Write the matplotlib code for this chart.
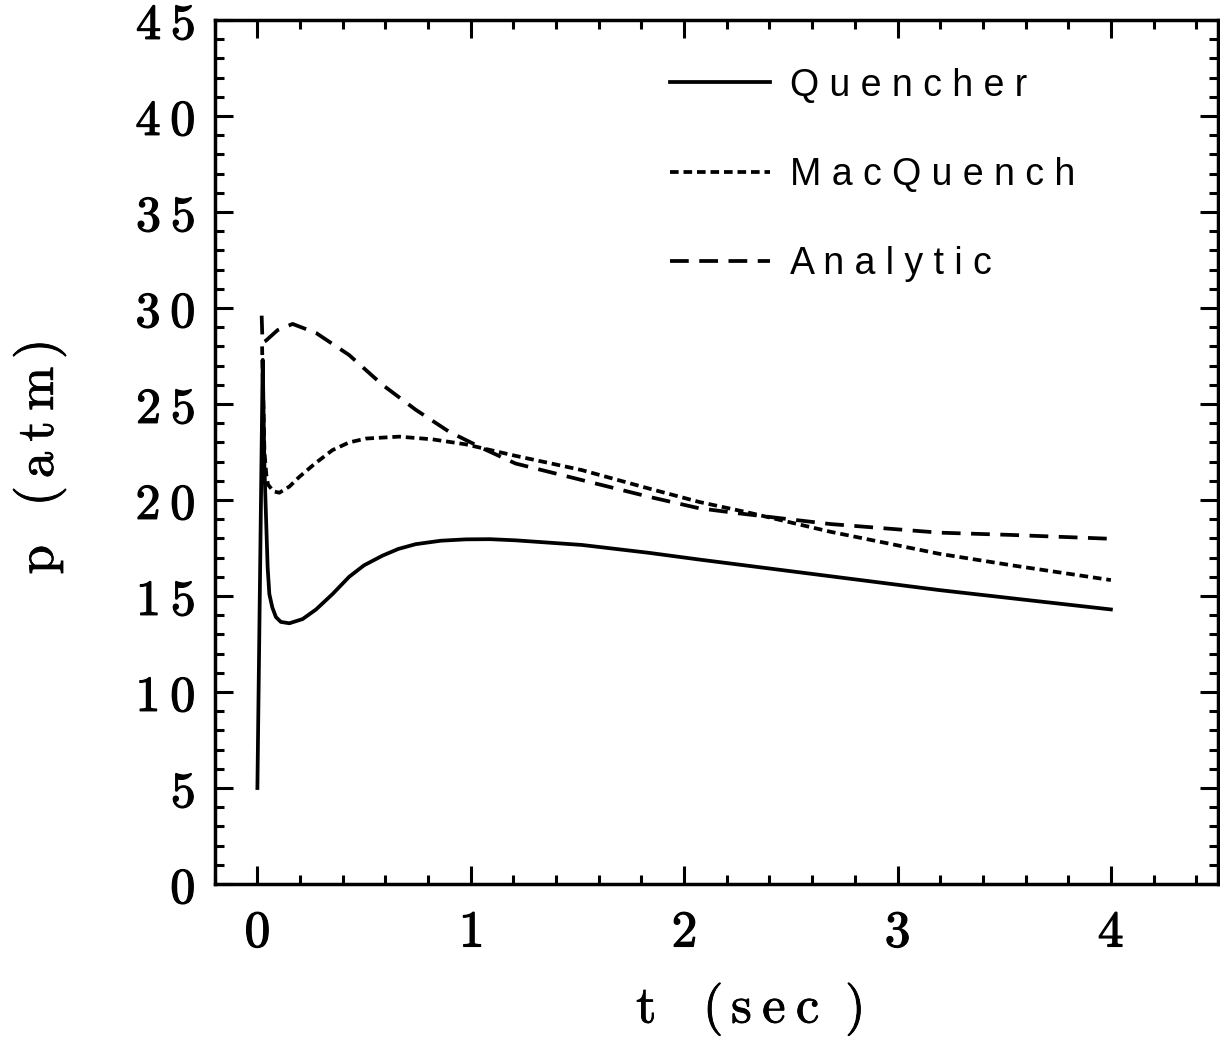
import matplotlib
matplotlib.use("Agg")
import matplotlib.pyplot as plt
from matplotlib.ticker import MultipleLocator
import matplotlib.patheffects as pe

# ---------------- data ----------------
t_quencher = [0.0, 0.025, 0.033, 0.048, 0.056, 0.070, 0.087, 0.11, 0.15, 0.212, 0.275,
              0.352, 0.43, 0.50, 0.586, 0.66, 0.742, 0.86, 0.976, 1.09, 1.21, 1.52,
              1.834, 2.07, 2.515, 3.195, 3.6, 4.0]
p_quencher = [5.0, 27.3, 21.7, 16.5, 15.1, 14.4, 13.9, 13.65, 13.58, 13.8, 14.3,
              15.1, 16.0, 16.6, 17.1, 17.45, 17.7, 17.88, 17.95, 17.96, 17.9, 17.66,
              17.25, 16.9, 16.27, 15.31, 14.8, 14.3]

t_macquench = [0.022, 0.028, 0.033, 0.042, 0.05, 0.075, 0.103, 0.15, 0.196, 0.27, 0.352,
               0.43, 0.509, 0.664, 0.82, 0.976, 1.21, 1.52, 1.834, 2.07, 2.30, 2.684,
               3.195, 3.535, 4.0]
p_macquench = [28.0, 25.0, 22.5, 21.3, 20.8, 20.45, 20.38, 20.7, 21.2, 21.9, 22.6,
               23.0, 23.2, 23.3, 23.16, 22.9, 22.3, 21.56, 20.6, 19.9, 19.35, 18.35,
               17.2, 16.6, 15.83]

t_analytic = [0.020, 0.024, 0.04, 0.095, 0.165, 0.275, 0.43, 0.586, 0.742, 0.898, 1.054,
              1.21, 1.52, 1.834, 2.07, 2.26, 2.684, 3.195, 3.535, 4.0]
p_analytic = [29.6, 28.2, 28.3, 28.85, 29.17, 28.7, 27.55, 26.0, 24.7, 23.56, 22.7,
              21.9, 21.04, 20.17, 19.57, 19.3, 18.75, 18.3, 18.18, 17.98]

series_labels = ["Q u e n c h e r", "M a c Q u e n c h", "A n a l y t i c"]

x_ticks = [0, 1, 2, 3, 4]
x_tick_labels = [r"$0$", r"$1$", r"$2$", r"$3$", r"$4$"]
y_ticks = [0, 5, 10, 15, 20, 25, 30, 35, 40, 45]
y_tick_labels = [r"$0$", r"$5$", r"$1\:0$", r"$1\:5$", r"$2\:0$", r"$2\:5$",
                 r"$3\:0$", r"$3\:5$", r"$4\:0$", r"$4\:5$"]
x_label = r"$\mathrm{t\quad(\,s\:e\:c\;\;)}$"
y_label = r"$\mathrm{p\;\;\;(\,a\:t\:m\,)}$"

# ---------------- figure ----------------
plt.rcParams["mathtext.fontset"] = "cm"
fig = plt.figure(figsize=(12.2, 10.41), dpi=100)
ax = fig.add_axes([0.176, 0.1508, 0.822, 0.830])

lw = 2.7
ax.plot(t_quencher, p_quencher, color="black", lw=lw, linestyle="-", label=series_labels[0])
ax.plot(t_macquench, p_macquench, color="black", lw=lw, linestyle=(0, (2.3, 1.3)),
        label=series_labels[1])
ax.plot(t_analytic, p_analytic, color="black", lw=lw, linestyle=(0, (5.0, 2.8)),
        label=series_labels[2])

ax.set_xlim(-0.2, 4.5)
ax.set_ylim(0, 45)

ax.set_xticks(x_ticks)
ax.set_xticklabels(x_tick_labels)
ax.set_yticks(y_ticks)
ax.set_yticklabels(y_tick_labels)
ax.xaxis.set_minor_locator(MultipleLocator(0.2))
ax.yaxis.set_minor_locator(MultipleLocator(1))

ax.tick_params(which="both", direction="in", top=True, right=True, width=2.2, colors="black")
ax.tick_params(which="major", length=13)
ax.tick_params(which="minor", length=6.5)
ax.tick_params(axis="x", which="major", labelsize=37, pad=17)
ax.tick_params(axis="y", which="major", labelsize=36, pad=14)

for s in ax.spines.values():
    s.set_linewidth(2.5)

stroke = [pe.withStroke(linewidth=0.9, foreground="black")]
for lab in ax.get_xticklabels() + ax.get_yticklabels():
    lab.set_path_effects(stroke)

ax.set_xlabel(x_label, fontsize=38)
ax.set_ylabel(y_label, fontsize=38)
ax.xaxis.set_label_coords(0.533, -0.111)
ax.yaxis.set_label_coords(-0.146, 0.493)
ax.xaxis.label.set_path_effects([pe.withStroke(linewidth=0.6, foreground="black")])
ax.yaxis.label.set_path_effects([pe.withStroke(linewidth=0.6, foreground="black")])

leg = ax.legend(loc="upper left", bbox_to_anchor=(0.4536, 0.945), frameon=False,
                prop={"family": "Liberation Sans", "size": 27},
                handlelength=2.67, handletextpad=0.53, labelspacing=1.42,
                borderpad=0, borderaxespad=0)

fig.savefig("out.png", dpi=100)
